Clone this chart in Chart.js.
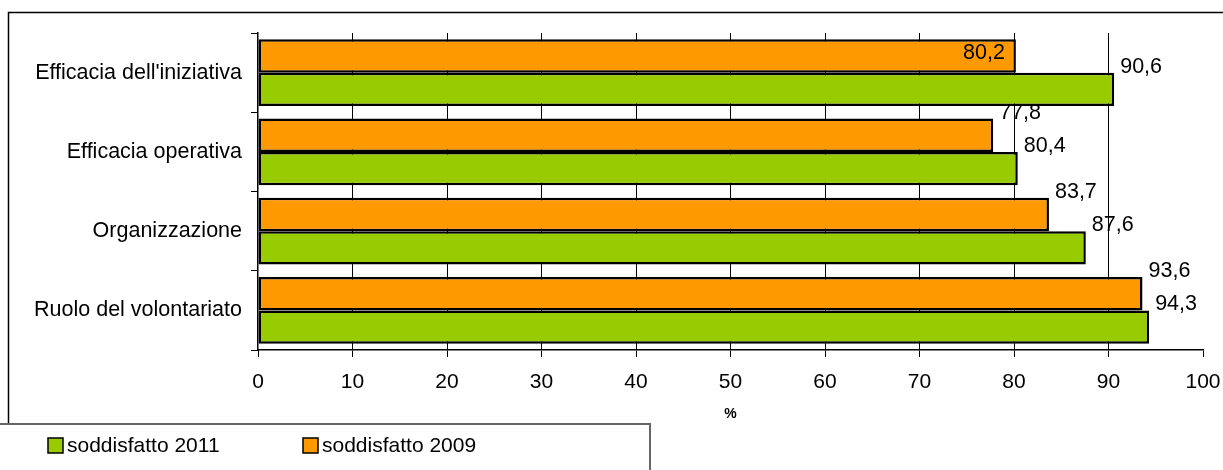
<!DOCTYPE html>
<html>
<head>
<meta charset="utf-8">
<script src="https://cdn.jsdelivr.net/npm/chart.js@4"></script>
<style>
  body { margin: 0; background: #fff; }
  #wrap { width: 1223px; height: 470px; position: relative; }
</style>
</head>
<body>
<div id="wrap"><canvas id="myChart"></canvas></div>
<script>
var categories = ["Efficacia dell'iniziativa", 'Efficacia operativa', 'Organizzazione', 'Ruolo del volontariato'];
var values2009 = [80.2, 77.8, 83.7, 93.6];
var values2011 = [90.6, 80.4, 87.6, 94.3];
var xTicks = [0, 10, 20, 30, 40, 50, 60, 70, 80, 90, 100];

var fontName = '"Liberation Sans", Arial, sans-serif';

// labels drawn at bar ends, with a comma as decimal separator
var barLabels = {
    id: 'barLabels',
    afterDatasetsDraw: function(chart) {
        var c = chart.ctx;
        c.save();
        c.font = '21.5px ' + fontName;
        c.fillStyle = '#000';
        c.textBaseline = 'middle';
        chart.data.datasets.forEach(function(ds, di) {
            chart.getDatasetMeta(di).data.forEach(function(bar, i) {
                var txt = ds.data[i].toFixed(1).replace('.', ',');
                if (di == 0 && i == 0) {
                    // this one sits inside its bar
                    c.textAlign = 'right';
                    c.fillText(txt, bar.x - 11, bar.y - 3);
                } else {
                    c.textAlign = 'left';
                    c.fillText(txt, bar.x + 6, bar.y - bar.height / 2 - 6);
                }
            });
        });
        c.restore();
    }
};

// frame and legend box like the spreadsheet export
var frame = {
    id: 'frame',
    afterDraw: function(chart) {
        var c = chart.ctx;
        c.save();
        c.strokeStyle = '#000';
        c.lineWidth = 1.5;
        c.beginPath();
        c.moveTo(8.5, 424);
        c.lineTo(8.5, 12.5);
        c.lineTo(1223, 12.5);
        c.stroke();
        c.strokeStyle = '#666';
        c.lineWidth = 2;
        c.beginPath();
        c.moveTo(0, 424);
        c.lineTo(650, 424);
        c.lineTo(650, 470);
        c.stroke();

        var items = chart.data.datasets.slice().reverse();
        var xs = [48, 303];
        c.font = '21px ' + fontName;
        c.textBaseline = 'middle';
        c.textAlign = 'left';
        items.forEach(function(ds, k) {
            c.fillStyle = ds.backgroundColor;
            c.fillRect(xs[k], 438, 15, 15);
            c.strokeStyle = '#000';
            c.lineWidth = 1.5;
            c.strokeRect(xs[k], 438, 15, 15);
            c.fillStyle = '#000';
            c.fillText(ds.label, xs[k] + 19, 446);
        });
        c.restore();
    }
};

var ctx = document.getElementById('myChart').getContext('2d');
var myChart = new Chart(ctx, {
    type: 'bar',
    data: {
        labels: categories,
        datasets: [{
            label: 'soddisfatto 2009',
            data: values2009,
            backgroundColor: '#FF9900',
            borderColor: '#000',
            borderWidth: 2.5,
            borderSkipped: false
        }, {
            label: 'soddisfatto 2011',
            data: values2011,
            backgroundColor: '#99CC00',
            borderColor: '#000',
            borderWidth: 2.5,
            borderSkipped: false
        }]
    },
    options: {
        indexAxis: 'y',
        responsive: true,
        maintainAspectRatio: false,
        animation: false,
        layout: { padding: { top: 33, right: 20, left: 0, bottom: 46 } },
        datasets: { bar: { categoryPercentage: 0.84, barPercentage: 1 } },
        scales: {
            x: {
                min: 0,
                max: 100,
                afterFit: function(s) {
                    s.height = 74;
                    s.paddingLeft = 0;
                    s.paddingRight = 0;
                },
                afterBuildTicks: function(s) { s.ticks = xTicks.map(function(v) { return { value: v }; }); },
                ticks: { color: '#000', font: { family: fontName, size: 21 }, padding: 13 },
                grid: {
                    color: function(c) { return (c.tick && (c.tick.value == 0 || c.tick.value == 100)) ? 'rgba(0,0,0,0)' : '#000'; },
                    tickColor: '#000',
                    tickLength: 7,
                    lineWidth: 1
                },
                border: { color: '#000', width: 1.5 },
                title: {
                    display: true,
                    text: '%',
                    color: '#000',
                    font: { family: fontName, size: 14, weight: 'bold' },
                    padding: { top: 0, bottom: 1 }
                }
            },
            y: {
                afterFit: function(s) { s.width = 258; },
                ticks: { color: '#000', font: { family: fontName, size: 21.5 }, padding: 9 },
                grid: { drawOnChartArea: false, tickColor: '#000', tickLength: 7 },
                border: { color: '#000', width: 1.5 }
            }
        },
        plugins: {
            legend: { display: false },
            tooltip: { enabled: false }
        }
    },
    plugins: [barLabels, frame]
});
</script>
</body>
</html>
